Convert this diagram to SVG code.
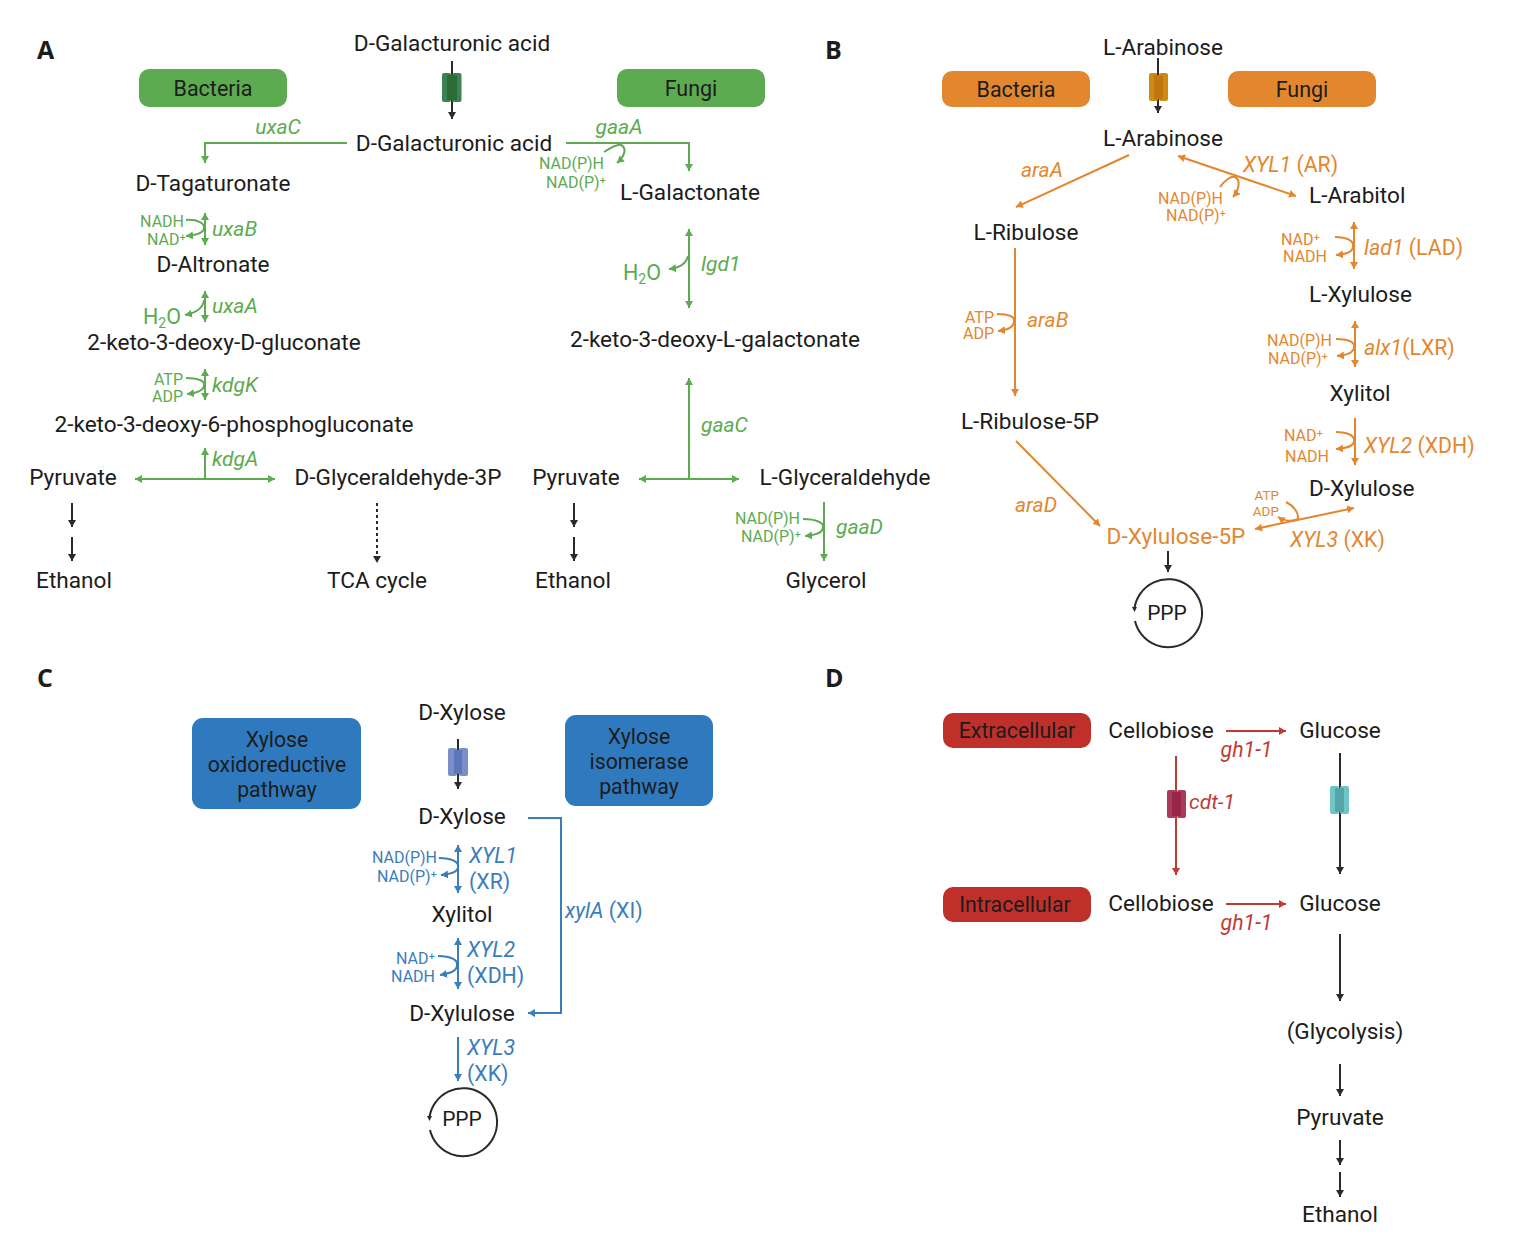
<svg xmlns="http://www.w3.org/2000/svg" width="1534" height="1253" viewBox="0 0 1534 1253">
<style>
text{font-family:Roboto,"Liberation Sans",sans-serif;font-size:22.6px;fill:#1c1c1c;text-anchor:middle}
.m{text-anchor:start}
.e{text-anchor:end}
.i{font-style:italic}
.s{font-size:16px}
.t{font-size:21.3px}
.h{font-size:21.5px}
.u{font-size:21px}
.hd{font-family:"Open Sans","Liberation Sans",sans-serif;font-weight:700;font-size:25px;text-anchor:start}
.sub{font-size:14px}
.g,.g text{fill:#5cab50}.o,.o text{fill:#e3872f}.b,.b text{fill:#3a7dbd}.r,.r text{fill:#bf3a33}
.ln{fill:none;stroke-width:2;stroke-linecap:butt}
.lg{stroke:#5cab50}.lo{stroke:#e3872f}.lb{stroke:#3a7dbd}.lr{stroke:#bf3a33}.lk{stroke:#2a2a2a}
.ag{marker-end:url(#ag)}.ao{marker-end:url(#ao)}.ab{marker-end:url(#ab)}.ar{marker-end:url(#ar)}.ak{marker-end:url(#ak)}
.dg{marker-start:url(#sg);marker-end:url(#ag)}.do{marker-start:url(#so);marker-end:url(#ao)}.db{marker-start:url(#sb);marker-end:url(#ab)}
</style>
<defs>
<marker id="ag" markerUnits="userSpaceOnUse" markerWidth="9" markerHeight="8" refX="7" refY="4" orient="auto"><path d="M0 0L7 4L0 8Z" fill="#5cab50"/></marker>
<marker id="sg" markerUnits="userSpaceOnUse" markerWidth="9" markerHeight="8" refX="0" refY="4" orient="auto"><path d="M7 0L0 4L7 8Z" fill="#5cab50"/></marker>
<marker id="ao" markerUnits="userSpaceOnUse" markerWidth="9" markerHeight="8" refX="7" refY="4" orient="auto"><path d="M0 0L7 4L0 8Z" fill="#e3872f"/></marker>
<marker id="so" markerUnits="userSpaceOnUse" markerWidth="9" markerHeight="8" refX="0" refY="4" orient="auto"><path d="M7 0L0 4L7 8Z" fill="#e3872f"/></marker>
<marker id="ab" markerUnits="userSpaceOnUse" markerWidth="9" markerHeight="8" refX="7" refY="4" orient="auto"><path d="M0 0L7 4L0 8Z" fill="#3a7dbd"/></marker>
<marker id="sb" markerUnits="userSpaceOnUse" markerWidth="9" markerHeight="8" refX="0" refY="4" orient="auto"><path d="M7 0L0 4L7 8Z" fill="#3a7dbd"/></marker>
<marker id="ar" markerUnits="userSpaceOnUse" markerWidth="9" markerHeight="8" refX="7" refY="4" orient="auto"><path d="M0 0L7 4L0 8Z" fill="#bf3a33"/></marker>
<marker id="ak" markerUnits="userSpaceOnUse" markerWidth="9" markerHeight="8" refX="7" refY="4" orient="auto"><path d="M0 0L7 4L0 8Z" fill="#2a2a2a"/></marker>
</defs>

<g id="panel-labels">
<text class="hd" x="37" y="59">A</text>
<text class="hd" x="825" y="59">B</text>
<text class="hd" x="37" y="687">C</text>
<text class="hd" x="825" y="687">D</text>
</g>

<g id="connectors">
<path class="ln lk ak" d="M452 61V119"/>
<path class="ln lg ag" d="M347 143H205V163"/>
<path class="ln lg ag" d="M566 143H689V171"/>
<path class="ln lg ag" d="M604 152C612 147 618 144 621 145C627 148 625 156 617 163"/>
<path class="ln lg dg" d="M205 213V245"/>
<path class="ln lg ag" d="M186 220C198 219 205 224 204 228C204 233 197 235 186 236"/>
<path class="ln lg dg" d="M205 291V322"/>
<path class="ln lg ag" d="M204 300C203 309 195 313 185 315"/>
<path class="ln lg dg" d="M205 369V400"/>
<path class="ln lg ag" d="M186 378C198 378 205 381 204 385C204 391 197 393 187 394"/>
<path class="ln lg" d="M205 479V448"/>
<path d="M205 448L201 455H209Z" fill="#5cab50"/>
<path class="ln lg dg" d="M135 479H275"/>
<path class="ln lk ak" d="M72 503V527"/>
<path class="ln lk ak" d="M72 537V561"/>
<path class="ln lk ak" d="M377 503V563" stroke-dasharray="3 3"/>
<path class="ln lg dg" d="M689 229V308"/>
<path class="ln lg ag" d="M688 256C686 264 679 268 669 269"/>
<path class="ln lg" d="M689 479V378"/>
<path d="M689 378L685 385H693Z" fill="#5cab50"/>
<path class="ln lg dg" d="M639 479H739"/>
<path class="ln lk ak" d="M574 503V527"/>
<path class="ln lk ak" d="M574 537V561"/>
<path class="ln lg ag" d="M824 502V561"/>
<path class="ln lg ag" d="M803 519C816 519 824 523 823 527C823 533 816 535 805 536"/>
<path class="ln lk ak" d="M1158 58V113"/>
<path class="ln lo ao" d="M1129 155L1016 207"/>
<path class="ln lo do" d="M1178 156L1296 196"/>
<path class="ln lo ao" d="M1220 187C1225 180 1231 176 1235 177C1241 180 1239 190 1233 197"/>
<path class="ln lo ao" d="M1015 248V396"/>
<path class="ln lo ao" d="M997 314C1009 314 1015 317 1014 321C1014 327 1008 330 998 331"/>
<path class="ln lo ao" d="M1016 441L1100 526"/>
<path class="ln lo do" d="M1354 222V269"/>
<path class="ln lo ao" d="M1335 237C1347 237 1354 241 1353 246C1353 252 1347 254 1336 255"/>
<path class="ln lo do" d="M1355 321V367"/>
<path class="ln lo ao" d="M1336 339C1348 339 1355 342 1354 347C1354 352 1348 355 1337 356"/>
<path class="ln lo ao" d="M1355 418V465"/>
<path class="ln lo ao" d="M1336 432C1348 432 1355 436 1354 441C1354 446 1348 448 1336 449"/>
<path class="ln lo do" d="M1255 529L1354 508"/>
<path class="ln lo ao" d="M1286 502C1294 506 1299 513 1298 519C1292 522 1284 521 1278 517"/>
<path class="ln lk ak" d="M1168 551V572"/>
<path class="ln lk ak" d="M458 739V789"/>
<path class="ln lb db" d="M458 845V893"/>
<path class="ln lb ab" d="M439 858C452 858 459 862 458 867C458 872 452 874 441 875"/>
<path class="ln lb db" d="M458 938V989"/>
<path class="ln lb ab" d="M438 956C451 956 458 960 457 965C457 971 451 973 440 975"/>
<path class="ln lb ab" d="M528 818H561V1013H528"/>
<path class="ln lb ab" d="M458 1037V1081"/>
<path class="ln lr ar" d="M1226 731H1286"/>
<path class="ln lr ar" d="M1176 756V875"/>
<path class="ln lk ak" d="M1340 753V874"/>
<path class="ln lr ar" d="M1226 904H1286"/>
<path class="ln lk ak" d="M1340 934V1001"/>
<path class="ln lk ak" d="M1340 1064V1096"/>
<path class="ln lk ak" d="M1340 1140V1165"/>
<path class="ln lk ak" d="M1340 1172V1197"/>
</g>

<g id="transporters">
<g id="t-galacturonate">
<rect x="442" y="73" width="9" height="29" rx="2" fill="#3d8350"/><rect x="452" y="73" width="9.500" height="29" rx="2" fill="#3d8350"/><rect x="447" y="75" width="10" height="25" fill="#2f6b39"/>
<path class="ln lk" d="M452 61V74"/>
</g>
<g id="t-arabinose">
<rect x="1149" y="73" width="9" height="28" rx="2" fill="#d08a14"/><rect x="1159" y="73" width="9" height="28" rx="2" fill="#d08a14"/><rect x="1154" y="75" width="9" height="24" fill="#c0780e"/>
<path class="ln lk" d="M1158 58V75"/>
</g>
<g id="t-xylose">
<rect x="448" y="748" width="9" height="28" rx="2" fill="#7b8fc6"/><rect x="459" y="748" width="9" height="28" rx="2" fill="#7b8fc6"/><rect x="454" y="750" width="8" height="24" fill="#5b77bd"/>
<path class="ln lk" d="M458 739V750"/>
</g>
<g id="t-cellobiose">
<rect x="1167" y="790" width="9" height="28" rx="2" fill="#a93a5c"/><rect x="1177" y="790" width="9" height="28" rx="2" fill="#a93a5c"/><rect x="1172" y="792" width="9" height="24" fill="#98264a"/>
</g>
<g id="t-glucose">
<rect x="1330" y="786" width="9" height="28" rx="2" fill="#70c5c5"/><rect x="1340" y="786" width="9" height="28" rx="2" fill="#70c5c5"/><rect x="1335" y="788" width="9" height="24" fill="#55a5a8"/>
</g>
</g>

<g id="node-bacteria-a"><rect x="139" y="69" width="148" height="38" rx="10" fill="#5cab50"/><text class="h" x="213" y="96">Bacteria</text></g>
<g id="node-fungi-a"><rect x="617" y="69" width="148" height="38" rx="10" fill="#5cab50"/><text class="h" x="691" y="96">Fungi</text></g>
<g id="node-bacteria-b"><rect x="942" y="71" width="148" height="36" rx="10" fill="#e3872f"/><text class="h" x="1016" y="97">Bacteria</text></g>
<g id="node-fungi-b"><rect x="1228" y="71" width="148" height="36" rx="10" fill="#e3872f"/><text class="h" x="1302" y="97">Fungi</text></g>
<g id="node-xor"><rect x="192" y="718" width="169" height="91" rx="11" fill="#2f7abf"/><text class="t" x="277" y="747">Xylose</text><text class="t" x="277" y="772">oxidoreductive</text><text class="t" x="277" y="797">pathway</text></g>
<g id="node-xi"><rect x="565" y="715" width="148" height="91" rx="11" fill="#2f7abf"/><text class="t" x="639" y="744">Xylose</text><text class="t" x="639" y="769">isomerase</text><text class="t" x="639" y="794">pathway</text></g>
<g id="node-extra"><rect x="943" y="713" width="148" height="35" rx="10" fill="#c0302b"/><text class="t" x="1017" y="738">Extracellular</text></g>
<g id="node-intra"><rect x="943" y="887" width="148" height="35" rx="10" fill="#c0302b"/><text class="t" x="1015" y="912">Intracellular</text></g>

<g id="panel-a-labels">
<text x="452" y="50.500">D-Galacturonic acid</text>
<text x="454" y="151">D-Galacturonic acid</text>
<text x="213" y="191">D-Tagaturonate</text>
<text x="213" y="272">D-Altronate</text>
<text x="224" y="350">2-keto-3-deoxy-D-gluconate</text>
<text x="234" y="432">2-keto-3-deoxy-6-phosphogluconate</text>
<text x="73" y="485">Pyruvate</text>
<text x="398" y="485">D-Glyceraldehyde-3P</text>
<text x="74" y="588">Ethanol</text>
<text x="377" y="588">TCA cycle</text>
<text x="690" y="200">L-Galactonate</text>
<text x="715" y="347">2-keto-3-deoxy-L-galactonate</text>
<text x="576" y="485">Pyruvate</text>
<text x="845" y="485">L-Glyceraldehyde</text>
<text x="573" y="588">Ethanol</text>
<text x="826" y="588">Glycerol</text>
<g class="g">
<text class="i u" x="278" y="134">uxaC</text>
<text class="i u" x="619" y="134">gaaA</text>
<text class="i m u" x="212" y="236">uxaB</text>
<text class="i m u" x="212" y="313">uxaA</text>
<text class="i m u" x="212" y="392">kdgK</text>
<text class="i m u" x="212" y="466">kdgA</text>
<text class="i m u" x="701" y="271">lgd1</text>
<text class="i m u" x="701" y="432">gaaC</text>
<text class="i m u" x="836" y="534">gaaD</text>
<text class="s e" x="184" y="227">NADH</text>
<text class="s e" x="186" y="245">NAD⁺</text>
<text class="m h" x="143" y="324">H<tspan class="sub" dy="4">2</tspan><tspan dy="-4">O</tspan></text>
<text class="s e" x="183" y="385">ATP</text>
<text class="s e" x="183" y="402">ADP</text>
<text class="s e" x="604" y="169">NAD(P)H</text>
<text class="s e" x="606" y="188">NAD(P)⁺</text>
<text class="m h" x="623" y="280">H<tspan class="sub" dy="4">2</tspan><tspan dy="-4">O</tspan></text>
<text class="s e" x="800" y="524">NAD(P)H</text>
<text class="s e" x="801" y="542">NAD(P)⁺</text>
</g>
</g>

<g id="panel-b-labels">
<text x="1163" y="55">L-Arabinose</text>
<text x="1163" y="146">L-Arabinose</text>
<text x="1026" y="240">L-Ribulose</text>
<text x="1030" y="429">L-Ribulose-5P</text>
<text class="m" x="1309" y="203">L-Arabitol</text>
<text class="m" x="1309" y="302">L-Xylulose</text>
<text x="1360" y="401">Xylitol</text>
<text class="m" x="1309" y="496">D-Xylulose</text>
<text class="u" x="1167" y="620">PPP</text>
<g class="o">
<text x="1176" y="544">D-Xylulose-5P</text>
<text class="i u" x="1042" y="177">araA</text>
<text class="i m u" x="1027" y="327">araB</text>
<text class="i u" x="1036" y="512">araD</text>
<text class="m t" x="1243" y="171.500"><tspan class="i">XYL1</tspan> (AR)</text>
<text class="m t" x="1364" y="254.500"><tspan class="i">lad1</tspan> (LAD)</text>
<text class="m t" x="1364" y="355"><tspan class="i">alx1</tspan>(LXR)</text>
<text class="m t" x="1364" y="452.500"><tspan class="i">XYL2</tspan> (XDH)</text>
<text class="m t" x="1290" y="546.500"><tspan class="i">XYL3</tspan> (XK)</text>
<text class="s e" x="1223" y="204">NAD(P)H</text>
<text class="s e" x="1226" y="221">NAD(P)⁺</text>
<text class="s e" x="1320" y="245">NAD⁺</text>
<text class="s e" x="1327" y="262">NADH</text>
<text class="s e" x="1332" y="346">NAD(P)H</text>
<text class="s e" x="1328" y="364">NAD(P)⁺</text>
<text class="s e" x="994" y="323">ATP</text>
<text class="s e" x="994" y="339">ADP</text>
<text class="s e" x="1323" y="441">NAD⁺</text>
<text class="s e" x="1329" y="462">NADH</text>
<text class="e" x="1279" y="500" style="font-size:13.500px">ATP</text>
<text class="e" x="1279" y="516" style="font-size:13.500px">ADP</text>
</g>
<path id="ppp-b" class="ln lk" d="M1134.500 608A34 34 0 1 1 1135 621"/>
<path d="M1134.500 612l-2.500 -5h5z" fill="#2a2a2a"/>
</g>

<g id="panel-c-labels">
<text x="462" y="720">D-Xylose</text>
<text x="462" y="824">D-Xylose</text>
<text x="462" y="922">Xylitol</text>
<text x="462" y="1021">D-Xylulose</text>
<text class="u" x="462" y="1126">PPP</text>
<g class="b">
<text class="i m t" x="469" y="863">XYL1</text>
<text class="m t" x="469" y="889">(XR)</text>
<text class="i m t" x="467" y="957">XYL2</text>
<text class="m t" x="467" y="983">(XDH)</text>
<text class="i m t" x="467" y="1055">XYL3</text>
<text class="m t" x="467" y="1081">(XK)</text>
<text class="m t" x="565" y="918"><tspan class="i">xylA</tspan> (XI)</text>
<text class="s e" x="437" y="863">NAD(P)H</text>
<text class="s e" x="437" y="882">NAD(P)⁺</text>
<text class="s e" x="435" y="964">NAD⁺</text>
<text class="s e" x="435" y="982">NADH</text>
</g>
<path id="ppp-c" class="ln lk" d="M429.500 1117A34 34 0 1 1 430 1130"/>
<path d="M429.500 1121l-2.500 -5h5z" fill="#2a2a2a"/>
</g>

<g id="panel-d-labels">
<text x="1161" y="738">Cellobiose</text>
<text x="1340" y="738">Glucose</text>
<text x="1161" y="911">Cellobiose</text>
<text x="1340" y="911">Glucose</text>
<text x="1345" y="1039">(Glycolysis)</text>
<text x="1340" y="1125">Pyruvate</text>
<text x="1340" y="1222">Ethanol</text>
<g class="r">
<text class="i t" x="1246.500" y="757">gh1-1</text>
<text class="i t" x="1246.500" y="930">gh1-1</text>
<text class="i m u" x="1189" y="809">cdt-1</text>
</g>
</g>
</svg>
